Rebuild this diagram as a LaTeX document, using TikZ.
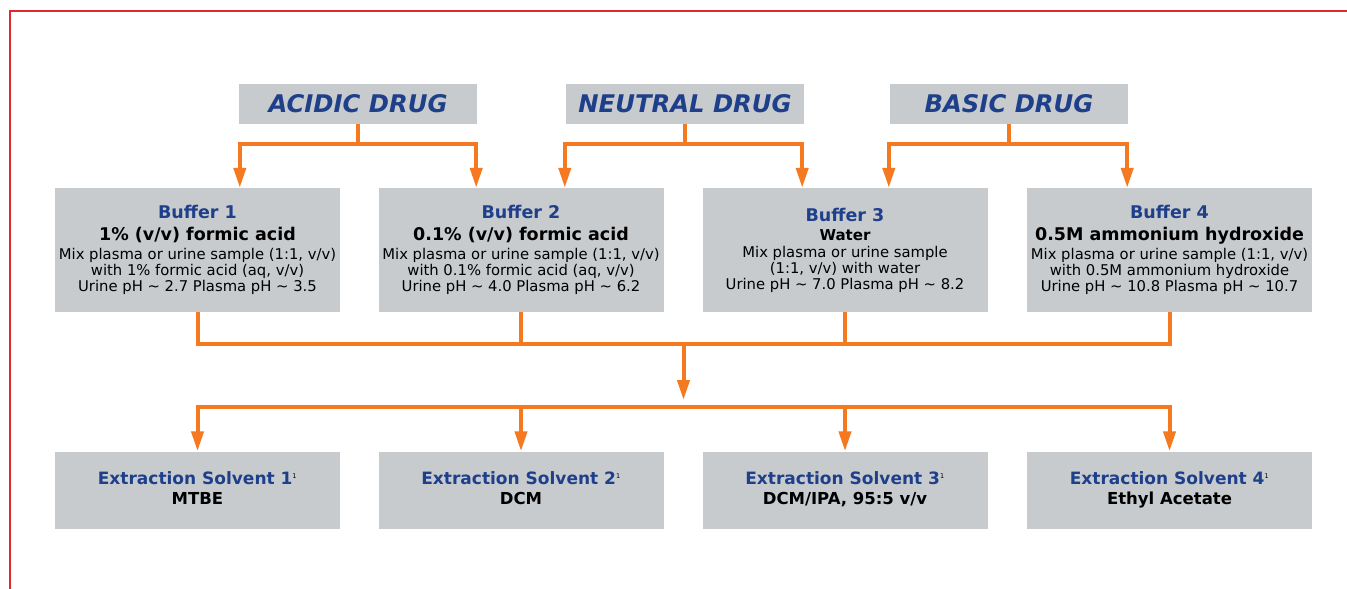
\documentclass[tikz,border=0pt]{standalone}
\usepackage{fontspec}
\setmainfont{DejaVu Sans}
\usetikzlibrary{arrows.meta}
\definecolor{boxgray}{HTML}{C8CBCE}
\definecolor{arrorange}{HTML}{F47920}
\definecolor{titleblue}{HTML}{1E3F8A}
\definecolor{framered}{HTML}{DD2A30}
\newcommand\fsz[2]{\fontsize{#1}{#2}\selectfont}
\newcommand\btitle[1]{{\fsz{17.5}{16}\bfseries\color{titleblue}#1}}
\newcommand\stitle[1]{{\fsz{17}{16}\bfseries\color{titleblue}#1}}
\newcommand\bsub[1]{{\fsz{17.5}{16}\bfseries #1}}
\newcommand\refmark{\textsuperscript{\fsz{6.5}{6.5}\mdseries 1}}
\begin{document}
\begin{tikzpicture}[x=1pt,y=-1pt,
  drugbox/.style={fill=boxgray, minimum width=238pt, minimum height=40pt, inner sep=0pt,
    font=\fsz{24.3}{28}\bfseries\itshape, text=titleblue},
  bufbox/.style={fill=boxgray, minimum width=285pt, minimum height=124pt, inner sep=0pt,
    align=center, font=\fsz{14.8}{16}},
  solvbox/.style={fill=boxgray, minimum width=285pt, minimum height=77pt, inner sep=0pt,
    align=center, font=\fsz{16.5}{20}\bfseries},
  conn/.style={draw=arrorange, line width=4pt, line join=miter},
  arr/.style={conn, -{Triangle[length=20pt,width=12pt]}}]
\useasboundingbox (0,0) rectangle (1347,589);
\draw[framered, line width=2pt] (10,589) -- (10,11) -- (1347,11);

% drug boxes
\node[drugbox] (acid) at (358,103.5) {ACIDIC DRUG};
\node[drugbox] (neut) at (685,103.5) {NEUTRAL DRUG};
\node[drugbox] (basic) at (1009,103.5) {BASIC DRUG};

% buffer boxes
\node[bufbox] (b1) at (197.5,250) {\btitle{Buffer 1}\\[6pt]\bsub{1\% (v/v) formic acid}\\[3pt]
  Mix plasma or urine sample (1:1, v/v)\\with 1\% formic acid (aq, v/v)\\Urine pH \textasciitilde{} 2.7 Plasma pH \textasciitilde{} 3.5};
\node[bufbox] (b2) at (521,250) {\btitle{Buffer 2}\\[6pt]\bsub{0.1\% (v/v) formic acid}\\[3pt]
  Mix plasma or urine sample (1:1, v/v)\\with 0.1\% formic acid (aq, v/v)\\Urine pH \textasciitilde{} 4.0 Plasma pH \textasciitilde{} 6.2};
\node[bufbox] (b3) at (845,250) {\btitle{Buffer 3}\\[3pt]{\fsz{15}{16}\bfseries Water}\\[1pt]
  Mix plasma or urine sample\\(1:1, v/v) with water\\Urine pH \textasciitilde{} 7.0 Plasma pH \textasciitilde{} 8.2};
\node[bufbox] (b4) at (1169.5,250) {\btitle{Buffer 4}\\[6pt]\bsub{0.5M ammonium hydroxide}\\[3pt]
  Mix plasma or urine sample (1:1, v/v)\\with 0.5M ammonium hydroxide\\Urine pH \textasciitilde{} 10.8 Plasma pH \textasciitilde{} 10.7};

% solvent boxes
\node[solvbox] (s1) at (197.5,490) {\stitle{Extraction Solvent 1}\refmark\\MTBE\vphantom{y}};
\node[solvbox] (s2) at (521,490) {\stitle{Extraction Solvent 2}\refmark\\DCM\vphantom{y}};
\node[solvbox] (s3) at (845,490) {\stitle{Extraction Solvent 3}\refmark\\DCM/IPA, 95:5 v/v\vphantom{y}};
\node[solvbox] (s4) at (1169.5,490) {\stitle{Extraction Solvent 4}\refmark\\Ethyl Acetate};

% top connectors
\draw[arr] (acid.south) -- ++(0,20) -| ([xshift=1pt]acid.south west |- b1.north);
\draw[arr] (acid.south) -- ++(0,20) -| ([xshift=-1pt]acid.south east |- b2.north);
\draw[arr] (neut.south) -- ++(0,20) -| ([xshift=-1pt]neut.south west |- b2.north);
\draw[arr] (neut.south) -- ++(0,20) -| ([xshift=-2pt]neut.south east |- b3.north);
\draw[arr] (basic.south) -- ++(0,20) -| ([xshift=-1pt]basic.south west |- b3.north);
\draw[arr] (basic.south) -- ++(0,20) -| ([xshift=-1pt]basic.south east |- b4.north);

% bottom connectors
\coordinate (hub) at (683.5,344);
\coordinate (low) at (683.5,407);
\draw[conn] (b1.south) |- (b4.south |- hub) -- (b4.south);
\draw[conn] (b2.south) -- (b2.south |- hub);
\draw[conn] (b3.south) -- (b3.south |- hub);
\draw[arr] (hub) -- (hub |- 0,400);
\draw[arr] (low) -| (s1.north);
\draw[arr] (low) -| (s4.north);
\draw[arr] (s2.north |- low) -- (s2.north);
\draw[arr] (s3.north |- low) -- (s3.north);
\end{tikzpicture}
\end{document}
